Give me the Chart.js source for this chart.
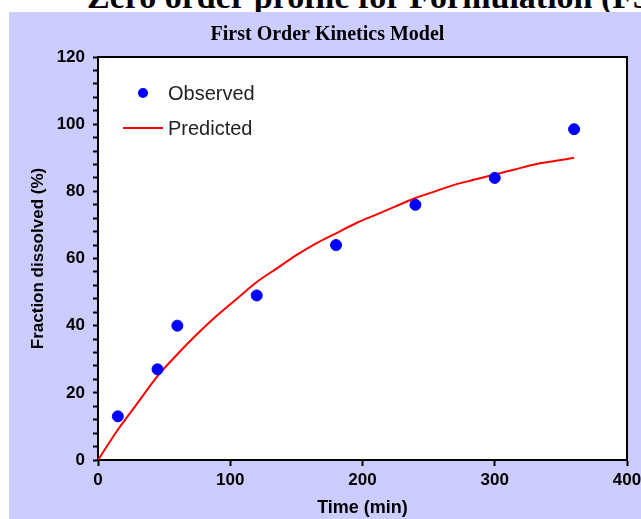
<!DOCTYPE html>
<html>
<head>
<meta charset="utf-8">
<script src="https://cdn.jsdelivr.net/npm/chart.js@4"></script>
<style>
  body { margin: 0; background: #fff; width: 641px; height: 519px; overflow: hidden; position: relative; }
  #topTitle {
    position: absolute; left: 87px; top: -20px; white-space: nowrap;
    font: bold 34px "Liberation Serif", "Times New Roman", serif; line-height: 34px; color: #000;
  }
  #panel { position: absolute; left: 9px; top: 12px; width: 632px; height: 507px; background: #ccccff; }
</style>
</head>
<body>
<div id="topTitle">Zero order profile for Formulation (F3)</div>
<div id="panel"><canvas id="chart" width="632" height="507"></canvas></div>
<script>
// observed points
const obsTime = [15, 45, 60, 120, 180, 240, 300, 360];
const obsPct = [13, 27, 40, 49, 64, 76, 84, 98.5];

// predicted curve
const predTime = [0, 15, 30, 45, 60, 75, 90, 105, 120, 135, 150, 165, 180, 195, 210, 225, 240, 255, 270, 285, 300, 315, 330, 345, 360];
const predPct = [0, 9, 17, 25, 31.5, 37.5, 43, 48, 53, 57, 61, 64.5, 67.5, 70.5, 73, 75.5, 78, 80, 82, 83.5, 85, 86.5, 88, 89, 90];

const tickFont = { family: "'Liberation Sans', Arial, sans-serif", size: 17, weight: "bold" };

// white plot area, frame on top/right, legend inside the plot
const plotExtras = {
  id: "plotExtras",
  beforeDraw(chart) {
    const a = chart.chartArea;
    chart.ctx.save();
    chart.ctx.fillStyle = "#fff";
    chart.ctx.fillRect(a.left, a.top, a.right - a.left, a.bottom - a.top);
    chart.ctx.restore();
  },
  afterDatasetsDraw(chart) {
    const ctx = chart.ctx;
    const a = chart.chartArea;
    ctx.save();
    ctx.strokeStyle = "#000";
    ctx.lineWidth = 2;
    ctx.beginPath();
    ctx.moveTo(a.left, a.top);
    ctx.lineTo(a.right, a.top);
    ctx.lineTo(a.right, a.bottom);
    ctx.stroke();

    ctx.fillStyle = "#0000ff";
    ctx.beginPath();
    ctx.arc(a.left + 45, a.top + 36, 5, 0, Math.PI * 2);
    ctx.fill();

    ctx.strokeStyle = "#ff0000";
    ctx.beginPath();
    ctx.moveTo(a.left + 25, a.top + 71);
    ctx.lineTo(a.left + 65, a.top + 71);
    ctx.stroke();

    ctx.fillStyle = "#222";
    ctx.font = "20px 'Liberation Sans', Arial, sans-serif";
    ctx.textBaseline = "middle";
    ctx.fillText("Observed", a.left + 70, a.top + 37);
    ctx.fillText("Predicted", a.left + 70, a.top + 72);
    ctx.restore();
  },
};

new Chart(document.getElementById("chart"), {
  type: "scatter",
  data: {
    datasets: [
      {
        label: "Observed",
        data: obsTime.map((t, i) => ({ x: t, y: obsPct[i] })),
        backgroundColor: "#0000ff",
        borderColor: "#0000ff",
        pointRadius: 5.5,
        order: 1,
      },
      {
        label: "Predicted",
        data: predTime.map((t, i) => ({ x: t, y: predPct[i] })),
        showLine: true,
        borderColor: "#ff0000",
        borderWidth: 2,
        pointRadius: 0,
        tension: 0.3,
        order: 2,
      },
    ],
  },
  options: {
    responsive: false,
    animation: false,
    layout: { padding: { right: 14, left: 19, bottom: 0 } },
    plugins: {
      legend: { display: false },
      tooltip: { enabled: false },
      title: {
        display: true,
        text: "First Order Kinetics Model",
        color: "#000",
        font: { family: "'Liberation Serif', 'Times New Roman', serif", size: 20, weight: "bold" },
        padding: { top: 11, bottom: 10 },
      },
    },
    scales: {
      x: {
        type: "linear",
        min: 0,
        max: 400,
        ticks: { stepSize: 100, color: "#000", font: tickFont, padding: 4 },
        grid: { drawOnChartArea: false, tickLength: 6, tickColor: "#000", tickWidth: 2 },
        border: { color: "#000", width: 2 },
        title: {
          display: true, text: "Time (min)", color: "#000",
          font: { family: "'Liberation Sans', Arial, sans-serif", size: 18, weight: "bold" },
          padding: { top: 4, bottom: 0 },
        },
        afterFit: (s) => { s.height = 59; s.paddingRight = 0; },
      },
      y: {
        min: 0,
        max: 120,
        ticks: {
          stepSize: 4,
          autoSkip: false,
          color: "#000",
          font: tickFont,
          padding: 8,
          callback: (v) => (v % 20 === 0 ? v : ""),
        },
        grid: { drawOnChartArea: false, tickLength: 5, tickColor: "#000", tickWidth: 2 },
        border: { color: "#000", width: 2 },
        title: {
          display: true, text: "Fraction dissolved (%)", color: "#000",
          font: { family: "'Liberation Sans', Arial, sans-serif", size: 17, weight: "bold" },
          padding: 0,
        },
        afterFit: (s) => { s.width = 70; },
      },
    },
  },
  plugins: [plotExtras],
});
</script>
</body>
</html>
